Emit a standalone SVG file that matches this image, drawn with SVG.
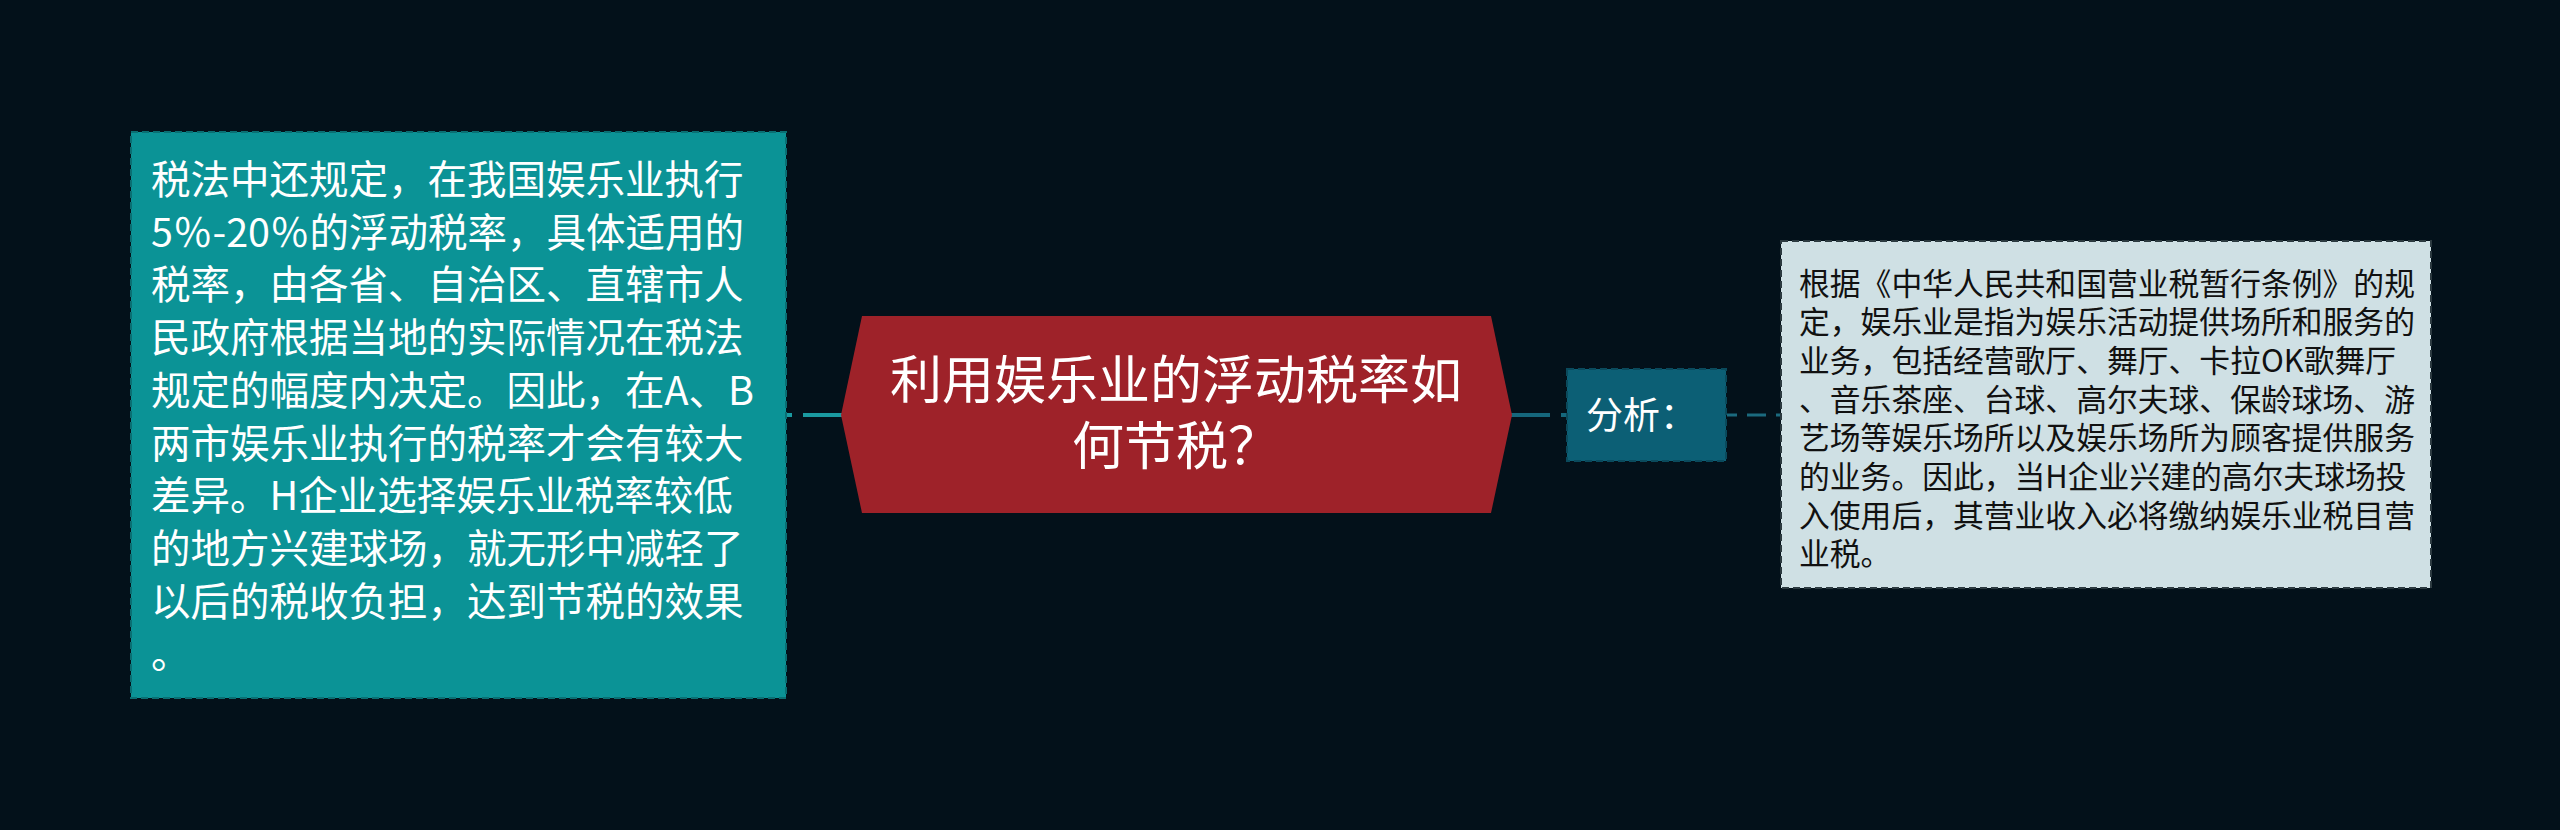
<svg xmlns="http://www.w3.org/2000/svg" width="2560" height="830" viewBox="0 0 2560 830">
<style>
text{font-family:"Noto Sans CJK SC","Noto Sans",sans-serif;}
.lt{font-size:39.5px;fill:#ffffff;}
.ct{font-size:52px;fill:#ffffff;text-anchor:middle;}
.at{font-size:37px;fill:#ffffff;}
.rt{font-size:30.8px;fill:#111111;}
.box{stroke-width:2;stroke-dasharray:7 4;}
</style>
<rect x="0" y="0" width="2560" height="830" fill="#03111a"/>
<g id="connectors">
<line x1="787" y1="415" x2="843" y2="415" stroke="#1a9aa0" stroke-width="4" stroke-dasharray="40 11" transform="rotate(180 815 415)"/>
<line x1="1510" y1="415" x2="1568" y2="415" stroke="#15677c" stroke-width="4" stroke-dasharray="40 11"/>
<line x1="1727" y1="415" x2="1782" y2="415" stroke="#1b6a7e" stroke-width="3" stroke-dasharray="19 10" stroke-dashoffset="9"/>
</g>
<g id="node-left">
<rect class="box" x="131" y="132" width="655" height="566" fill="#0b9396" stroke="#0a6f73"/>
<text class="lt" x="151" y="194">税法中还规定，在我国娱乐业执行</text>
<text class="lt" x="151" y="246.7">5％-20％的浮动税率，具体适用的</text>
<text class="lt" x="151" y="299.4">税率，由各省、自治区、直辖市人</text>
<text class="lt" x="151" y="352.1">民政府根据当地的实际情况在税法</text>
<text class="lt" x="151" y="404.8">规定的幅度内决定。因此，在A、B</text>
<text class="lt" x="151" y="457.5">两市娱乐业执行的税率才会有较大</text>
<text class="lt" x="151" y="510.2">差异。H企业选择娱乐业税率较低</text>
<text class="lt" x="151" y="562.9">的地方兴建球场，就无形中减轻了</text>
<text class="lt" x="151" y="615.6">以后的税收负担，达到节税的效果</text>
<text class="lt" x="151" y="668.3">。</text>
</g>
<g id="node-center">
<polygon points="841,415 862,316 1491,316 1512,415 1491,513 862,513" fill="#9e2229"/>
<text class="ct" x="1176" y="399">利用娱乐业的浮动税率如</text>
<text class="ct" x="1176" y="465">何节税？</text>
</g>
<g id="node-analysis">
<rect class="box" x="1567" y="369" width="159" height="92" fill="#0c5f75" stroke="#0a4a5c"/>
<text class="at" x="1586" y="429">分析：</text>
</g>
<g id="node-right">
<rect class="box" x="1781" y="241" width="650" height="347" fill="#cfe0e4" stroke="#2c3a40"/>
<text class="rt" x="1799" y="294.5">根据《中华人民共和国营业税暂行条例》的规</text>
<text class="rt" x="1799" y="333.2">定，娱乐业是指为娱乐活动提供场所和服务的</text>
<text class="rt" x="1799" y="371.9">业务，包括经营歌厅、舞厅、卡拉OK歌舞厅</text>
<text class="rt" x="1799" y="410.6">、音乐茶座、台球、高尔夫球、保龄球场、游</text>
<text class="rt" x="1799" y="449.3">艺场等娱乐场所以及娱乐场所为顾客提供服务</text>
<text class="rt" x="1799" y="488">的业务。因此，当H企业兴建的高尔夫球场投</text>
<text class="rt" x="1799" y="526.7">入使用后，其营业收入必将缴纳娱乐业税目营</text>
<text class="rt" x="1799" y="565.4">业税。</text>
</g>
</svg>
